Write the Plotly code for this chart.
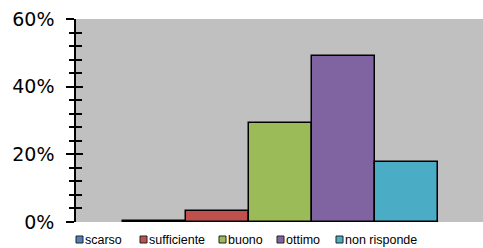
import plotly.graph_objects as go

categories = ["scarso", "sufficiente", "buono", "ottimo", "non risponde"]
values = [0.4, 3.2, 29.4, 49.2, 17.7]
colors = ["#4F81BD", "#C0504D", "#9BBB59", "#8064A2", "#4BACC6"]
y_ticks = [0, 20, 40, 60]
y_tick_labels = ["0%", "20%", "40%", "60%"]

W, H = 483, 248
L, R, T, B = 76, 0, 19, 26
pw, ph = W - L - R, H - T - B

fig = go.Figure()
for i, (c, v, col) in enumerate(zip(categories, values, colors)):
    fig.add_trace(go.Bar(x=[i], y=[v], width=1, name=c, marker=dict(color=col, line=dict(color="black", width=1.5)),
                         showlegend=False))
fig.add_trace(go.Scatter(x=[None], y=[None], yaxis="y2", showlegend=False, hoverinfo="skip"))

# manual legend
legend_px = [76, 140, 219, 277, 336]
ly = 239.5
shapes = []
annotations = []
for c, col, px in zip(categories, colors, legend_px):
    x0 = (px - L) / pw
    x1 = (px + 7 - L) / pw
    y0 = (H - B - (ly + 3.5)) / ph
    y1 = (H - B - (ly - 3.5)) / ph
    shapes.append(dict(type="rect", xref="paper", yref="paper", x0=x0, x1=x1, y0=y0, y1=y1,
                       fillcolor=col, line=dict(color="#222222", width=1)))
    annotations.append(dict(text=c, xref="paper", yref="paper", x=(px + 7 - L) / pw, y=(H - B - ly) / ph,
                            xanchor="left", yanchor="middle", showarrow=False,
                            font=dict(family="Liberation Sans", size=12.5, color="black")))

yax_common = dict(range=[0, 60], tickvals=y_ticks, showgrid=False, zeroline=False, automargin=False)
fig.update_layout(
    width=W, height=H, margin=dict(l=L, r=R, t=T, b=B, autoexpand=False),
    paper_bgcolor="white", plot_bgcolor="#C0C0C0",
    barmode="overlay", bargap=0,
    xaxis=dict(range=[-1.246, 5.214], showticklabels=False, showgrid=False, zeroline=False, showline=False,
               ticks="", automargin=False),
    yaxis=dict(**yax_common, ticktext=y_tick_labels, ticks="outside", ticklen=8, tickwidth=1.5, tickcolor="black",
               showline=True, linecolor="black", linewidth=1.5,
               minor=dict(dtick=4, ticks="outside", ticklen=5, tickwidth=1.5, tickcolor="black"),
               tickfont=dict(family="DejaVu Sans", size=19, color="black"), ticklabelstandoff=8),
    yaxis2=dict(**yax_common, overlaying="y", side="left", showticklabels=False, ticks="inside", ticklen=7,
                tickwidth=1.5, tickcolor="black",
                minor=dict(dtick=4, ticks="inside", ticklen=6, tickwidth=1.5, tickcolor="black")),
    shapes=shapes, annotations=annotations,
)
fig.write_html("out.html", config={"displayModeBar": False},
               post_script="document.body.style.margin='0';document.body.style.padding='0';")
